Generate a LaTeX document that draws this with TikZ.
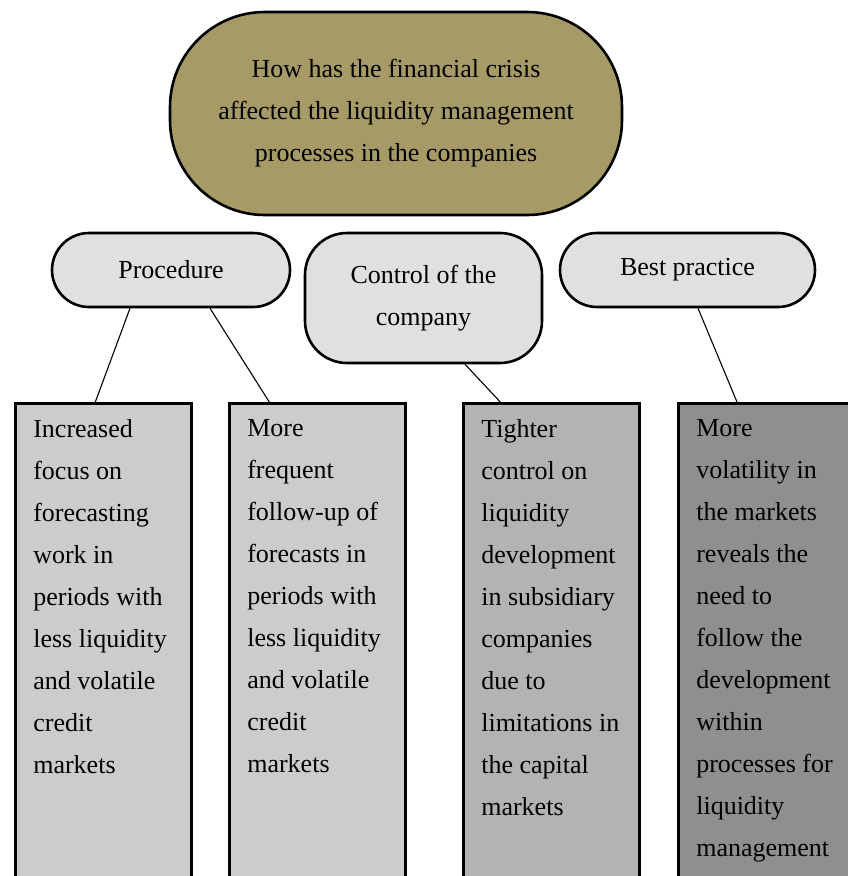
\documentclass[tikz,border=0pt]{standalone}
\usepackage{fontspec}
\setmainfont{Liberation Serif}
\usetikzlibrary{calc}

\definecolor{crisisfill}{HTML}{A69A67}
\definecolor{aspectfill}{HTML}{E0E0E0}
\definecolor{lightfill}{HTML}{CCCCCC}
\definecolor{midfill}{HTML}{B3B3B3}
\definecolor{darkfill}{HTML}{8F8F8F}

% text of a finding box, hanging from its top edge
\newcommand{\findingtext}[1]{\parbox[t][500pt][t]{140pt}{\raggedright #1}}

\begin{document}
\begin{tikzpicture}[x=1pt, y=-1pt,
	bigfont/.style={font=\fontsize{26}{42}\selectfont},
	topic/.style={draw, line width=2.6pt, fill=crisisfill, rectangle, rounded corners=95pt,
		minimum width=452pt, minimum height=203pt, align=center, bigfont},
	aspect/.style={draw, line width=2.6pt, fill=aspectfill, rectangle, rounded corners=37pt,
		minimum height=74pt, align=center, bigfont},
	finding/.style={draw, line width=2.6pt, rectangle, anchor=north west,
		inner xsep=18pt, inner ysep=16pt, bigfont},
	link/.style={line width=1.1pt}]
	\useasboundingbox (0, 0) rectangle (848, 876);
	\clip (0, 0) rectangle (848, 876);
	% question
	\node (crisis) at (396, 113.5)	[topic]	{How has the financial crisis\\affected the liquidity management\\processes in the companies};
	% three aspects
	\node (proc) at (171, 270)		[aspect, minimum width=238pt]	{Procedure};
	\node (ctrl) at (423.5, 298)	[aspect, minimum width=237pt, minimum height=130pt, rounded corners=42pt]	{Control of the\\company};
	\node (best) at (687.5, 270)	[aspect, minimum width=255pt]	{Best practice};
	% findings, running off the bottom
	\node (focus) at (14, 402)		[finding, fill=lightfill]	{\findingtext{Increased\\focus on\\forecasting\\work in\\periods with\\less liquidity\\and volatile\\credit\\markets}};
	\node (follow) at (228, 402)	[finding, fill=lightfill]	{\findingtext{More\\frequent\\follow-up of\\forecasts in\\periods with\\less liquidity\\and volatile\\credit\\markets}};
	\node (tight) at (462, 402)		[finding, fill=midfill]		{\findingtext{Tighter\\control on\\liquidity\\development\\in subsidiary\\companies\\due to\\limitations in\\the capital\\markets}};
	\node (vol) at (677, 402)		[finding, fill=darkfill]	{\findingtext{More\\volatility in\\the markets\\reveals the\\need to\\follow the\\development\\within\\processes for\\liquidity\\management}};
	% connectors
	\draw[link] ($(proc.south)+(-41, 0)$)	--	($(focus.north)+(-8, 0)$);
	\draw[link] ($(proc.south)+(39, 0)$)	--	($(follow.north)+(-48, 0)$);
	\draw[link] ($(ctrl.south)+(41.5, 0)$)	--	($(tight.north)+(-51, 0)$);
	\draw[link] ($(best.south)+(10.5, 0)$)	--	($(vol.north west)+(60, 0)$);
\end{tikzpicture}
\end{document}
